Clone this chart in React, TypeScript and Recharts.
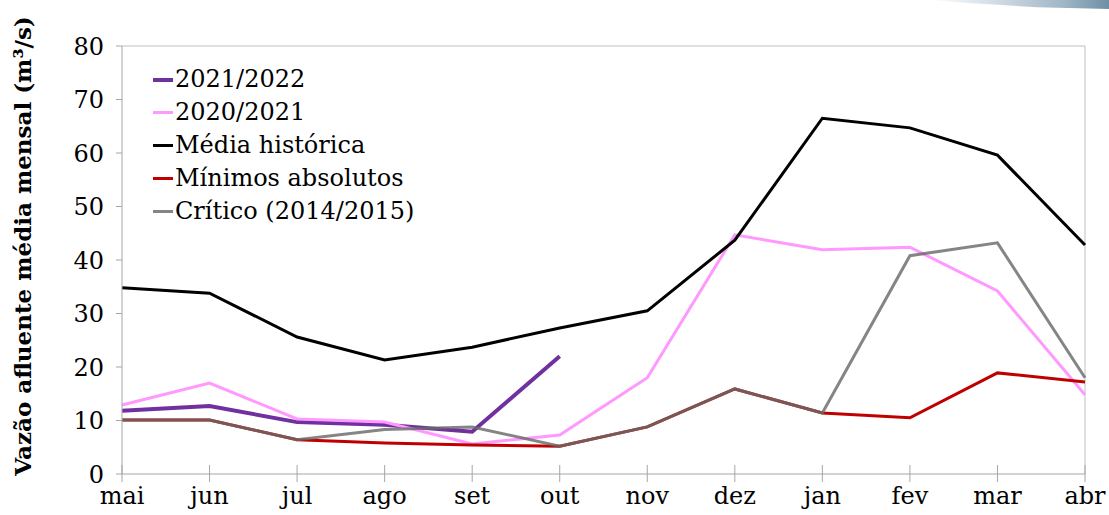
import React from 'react';
import { LineChart, Line, XAxis, YAxis, Legend, ReferenceLine } from 'recharts';

const meses = ['mai', 'jun', 'jul', 'ago', 'set', 'out', 'nov', 'dez', 'jan', 'fev', 'mar', 'abr'];
const ano2122 = [11.8, 12.7, 9.7, 9.2, 7.9, 22, null, null, null, null, null, null];
const ano2021 = [12.9, 17, 10.3, 9.7, 5.6, 7.3, 18, 44.7, 41.9, 42.4, 34.2, 14.8];
const mediaHistorica = [34.8, 33.8, 25.6, 21.3, 23.7, 27.3, 30.5, 43.7, 66.5, 64.7, 59.6, 42.8];
const minimosAbsolutos = [10.1, 10.1, 6.4, 5.8, 5.4, 5.2, 8.8, 15.9, 11.4, 10.5, 18.9, 17.2];
const critico = [10.1, 10.1, 6.4, 8.3, 8.8, 5.2, 8.8, 15.9, 11.4, 40.8, 43.2, 18];
const yTicks = [0, 10, 20, 30, 40, 50, 60, 70, 80];

const data = meses.map((mes, i) => ({
  mes,
  ano2122: ano2122[i],
  ano2021: ano2021[i],
  media: mediaHistorica[i],
  minimos: minimosAbsolutos[i],
  critico: critico[i],
}));

const series = [
  { key: 'ano2122', name: '2021/2022', color: '#7030a0', width: 4, opacity: 1 },
  { key: 'ano2021', name: '2020/2021', color: '#ff99ff', width: 3, opacity: 1 },
  { key: 'media', name: 'Média histórica', color: '#000000', width: 3, opacity: 1 },
  { key: 'minimos', name: 'Mínimos absolutos', color: '#c00000', width: 3, opacity: 1 },
  { key: 'critico', name: 'Crítico (2014/2015)', color: '#6a6a6a', width: 3, opacity: 0.82 },
];

const FONT = '"DejaVu Serif", serif';
const AXIS = '#a6a6a6';

const XTick = (props: any) => {
  const { x, y, payload } = props;
  return (
    <g>
      <line x1={x} x2={x} y1={y - 9} y2={y + 8} stroke={AXIS} strokeWidth={1} />
      <text x={x} y={y + 30} textAnchor="middle" fill="#000" fontSize={24} fontFamily={FONT}>
        {payload.value}
      </text>
    </g>
  );
};

const YTick = (props: any) => {
  const { x, y, payload } = props;
  return (
    <text x={x} y={y} dy="0.36em" textAnchor="end" fill="#000" fontSize={24} fontFamily={FONT}>
      {payload.value}
    </text>
  );
};

const YLabel = () => (
  <text
    x={31}
    y={246}
    transform="rotate(-90 31 246)"
    textAnchor="middle"
    fill="#000"
    fontSize={23}
    fontWeight="bold"
    fontFamily={FONT}
  >
    Vazão afluente média mensal (m³/s)
  </text>
);

const LegendContent = () => (
  <div style={{ fontFamily: FONT, fontSize: 24, lineHeight: '33px' }}>
    {series.map((s) => (
      <div key={s.name} style={{ display: 'flex', alignItems: 'center', whiteSpace: 'nowrap' }}>
        <span
          style={{
            display: 'inline-block',
            width: 20,
            height: s.width,
            background: s.color,
            opacity: s.opacity,
            marginRight: 2,
          }}
        />
        <span>{s.name}</span>
      </div>
    ))}
  </div>
);

export default function App() {
  return (
    <div style={{ position: 'absolute', left: 0, top: 0, width: 1109, height: 515, background: '#fff' }}>
      <div
        style={{
          position: 'absolute',
          right: 0,
          top: 0,
          width: 180,
          height: 9,
          background: 'linear-gradient(90deg, rgba(255,255,255,0), #d3dee6 35%, #9fb6c6 75%, #6f8fa5)',
          clipPath: 'polygon(0 0, 100% 0, 100% 100%, 60% 80%, 20% 30%)',
        }}
      />
      <LineChart
        width={1109}
        height={515}
        data={data}
        margin={{ top: 46, right: 24, left: 0, bottom: 0 }}
      >
        <ReferenceLine y={80} stroke="#bfbfbf" strokeWidth={1} />
        <ReferenceLine x="abr" stroke="#bfbfbf" strokeWidth={1} />
        <XAxis
          dataKey="mes"
          height={41}
          interval={0}
          axisLine={{ stroke: AXIS }}
          tickLine={false}
          tickSize={0}
          tickMargin={0}
          tick={<XTick />}
        />
        <YAxis
          width={122}
          domain={[0, 80]}
          ticks={yTicks}
          interval={0}
          axisLine={{ stroke: AXIS }}
          tickLine={{ stroke: AXIS }}
          tickSize={6}
          tickMargin={12}
          tick={<YTick />}
          label={<YLabel />}
        />
        <Legend
          layout="vertical"
          verticalAlign="middle"
          align="center"
          content={<LegendContent />}
          wrapperStyle={{ left: 153, top: 63, width: 'auto', height: 'auto' }}
        />
        {series.map((s) => (
          <Line
            key={s.key}
            dataKey={s.key}
            name={s.name}
            stroke={s.color}
            strokeOpacity={s.opacity}
            strokeWidth={s.width}
            dot={false}
            isAnimationActive={false}
          />
        ))}
      </LineChart>
    </div>
  );
}
